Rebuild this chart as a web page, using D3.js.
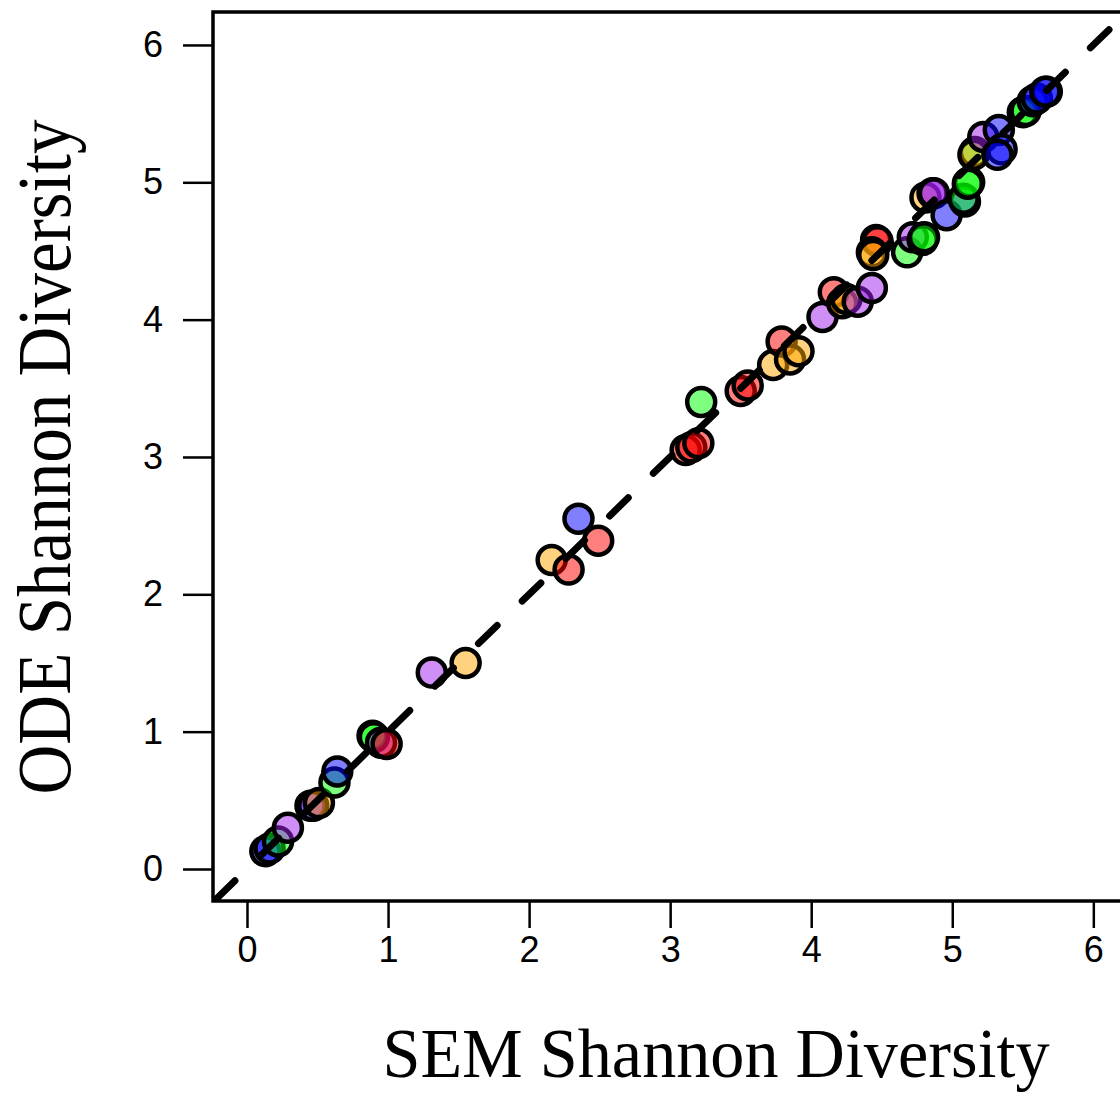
<!DOCTYPE html>
<html>
<head>
<meta charset="utf-8">
<title>SEM vs ODE Shannon Diversity</title>
<script src="https://cdn.jsdelivr.net/npm/d3@7"></script>
<style>
  body { margin: 0; background: #fff; }
</style>
</head>
<body>
<script>
// values
var semVals = [0.13, 0.16, 0.22, 0.29, 0.45, 0.47, 0.51, 0.62, 0.64, 0.89, 0.90, 0.95, 0.99,
               1.31, 1.55, 2.16, 2.28, 2.35, 2.49, 3.11, 3.15, 3.20, 3.22, 3.50, 3.55,
               3.73, 3.79, 3.85, 3.91, 4.08, 4.16, 4.22, 4.25, 4.33, 4.43,
               4.46, 4.47, 4.43, 4.44, 4.68, 4.72, 4.79, 4.80, 4.81, 4.86, 4.87,
               4.96, 5.09, 5.08, 5.12, 5.11, 5.16, 5.15, 5.22, 5.33, 5.35, 5.32,
               5.50, 5.52, 5.57, 5.60, 5.67, 5.66];
var odeVals = [0.13, 0.15, 0.20, 0.30, 0.46, 0.46, 0.48, 0.63, 0.71, 0.97, 0.96, 0.92, 0.91,
               1.43, 1.50, 2.25, 2.18, 2.55, 2.39, 3.05, 3.07, 3.10, 3.40, 3.48, 3.52,
               3.67, 3.84, 3.71, 3.77, 4.02, 4.20, 4.12, 4.15, 4.13, 4.23,
               4.58, 4.57, 4.49, 4.47, 4.49, 4.60, 4.58, 4.60, 4.89, 4.92, 4.92,
               4.76, 4.86, 4.88, 5.00, 4.99, 5.22, 5.20, 5.33, 5.38, 5.24, 5.20,
               5.51, 5.52, 5.59, 5.61, 5.66, 5.66];
var groups = ["blue", "blue", "green", "purple", "blue", "purple", "orange", "green", "blue", "green", "green", "purple", "red",
              "purple", "orange", "orange", "red", "blue", "red", "red", "red", "red", "green", "red", "red",
              "orange", "red", "orange", "orange", "purple", "red", "orange", "orange", "purple", "purple",
              "red", "red", "orange", "orange", "green", "purple", "green", "green", "orange", "purple", "purple",
              "blue", "blue", "green", "green", "green", "green", "orange", "purple", "blue", "blue", "blue",
              "green", "green", "blue", "blue", "blue", "blue"];
var groupNames = ["red", "orange", "green", "blue", "purple"];
var groupColors = ["#FF0000", "#FFA500", "#00FF00", "#0000FF", "#A020F0"];
var axisTicks = [0, 1, 2, 3, 4, 5, 6];

var width = 1120, height = 1093;
// plot region (its right edge falls off the page)
var plotL = 213, plotT = 12, plotB = 901, plotR = 1130;

var svg = d3.select("body").append("svg")
    .attr("width", width)
    .attr("height", height);

var x = d3.scaleLinear().domain([-0.241, 6.26]).range([plotL, plotR]);
var y = d3.scaleLinear().domain([-0.233, 6.24]).range([plotB, plotT]);
var color = d3.scaleOrdinal().domain(groupNames).range(groupColors);

svg.append("clipPath").attr("id", "plotclip")
  .append("rect")
    .attr("x", plotL).attr("y", plotT)
    .attr("width", plotR - plotL).attr("height", plotB - plotT);

var pts = semVals.map(function(d, i) { return {x: d, y: odeVals[i], g: groups[i]}; });

var plot = svg.append("g").attr("clip-path", "url(#plotclip)");

plot.selectAll("circle")
    .data(pts)
    .enter()
    .append("circle")
    .attr("cx", function(d) { return x(d.x); })
    .attr("cy", function(d) { return y(d.y); })
    .attr("r", 14)
    .attr("fill", function(d) { return color(d.g); })
    .attr("fill-opacity", 0.5)
    .attr("stroke", "#000")
    .attr("stroke-width", 4.5);

// 1:1 line
var lo = -0.233, hi = 6.3;
plot.append("line")
    .attr("x1", x(lo)).attr("y1", y(lo))
    .attr("x2", x(hi)).attr("y2", y(hi))
    .attr("stroke", "#000")
    .attr("stroke-width", 7)
    .attr("stroke-linecap", "round")
    .attr("stroke-dasharray", "26,35")
    .attr("stroke-dashoffset", -3);

// box
svg.append("rect")
    .attr("x", plotL).attr("y", plotT)
    .attr("width", plotR - plotL).attr("height", plotB - plotT)
    .attr("fill", "none")
    .attr("stroke", "#000")
    .attr("stroke-width", 3.5);

// axes
var xAxis = d3.axisBottom(x).tickValues(axisTicks).tickSize(27).tickPadding(8).tickFormat(d3.format("d"));
var yAxis = d3.axisLeft(y).tickValues(axisTicks).tickSize(30).tickPadding(20).tickFormat(d3.format("d"));

var gx = svg.append("g").attr("transform", "translate(0," + plotB + ")").call(xAxis);
var gy = svg.append("g").attr("transform", "translate(" + plotL + ",0)").call(yAxis);

[gx, gy].forEach(function(g) {
  g.select(".domain").remove();
  g.selectAll(".tick line").attr("stroke", "#000").attr("stroke-width", 2.5);
  g.selectAll(".tick text")
    .attr("fill", "#000")
    .style("font-family", "'Liberation Sans', Arial, sans-serif")
    .style("font-size", "36px");
});

// axis titles
svg.append("text")
    .attr("x", 716).attr("y", 1077)
    .attr("text-anchor", "middle")
    .attr("textLength", 667)
    .attr("lengthAdjust", "spacingAndGlyphs")
    .style("font-family", "'Liberation Serif', 'DejaVu Serif', serif")
    .style("font-size", "70px")
    .text("SEM Shannon Diversity");

svg.append("text")
    .attr("transform", "translate(70,457) rotate(-90)")
    .attr("text-anchor", "middle")
    .attr("textLength", 675)
    .attr("lengthAdjust", "spacingAndGlyphs")
    .style("font-family", "'Liberation Serif', 'DejaVu Serif', serif")
    .style("font-size", "76px")
    .text("ODE Shannon Diversity");
</script>
</body>
</html>
